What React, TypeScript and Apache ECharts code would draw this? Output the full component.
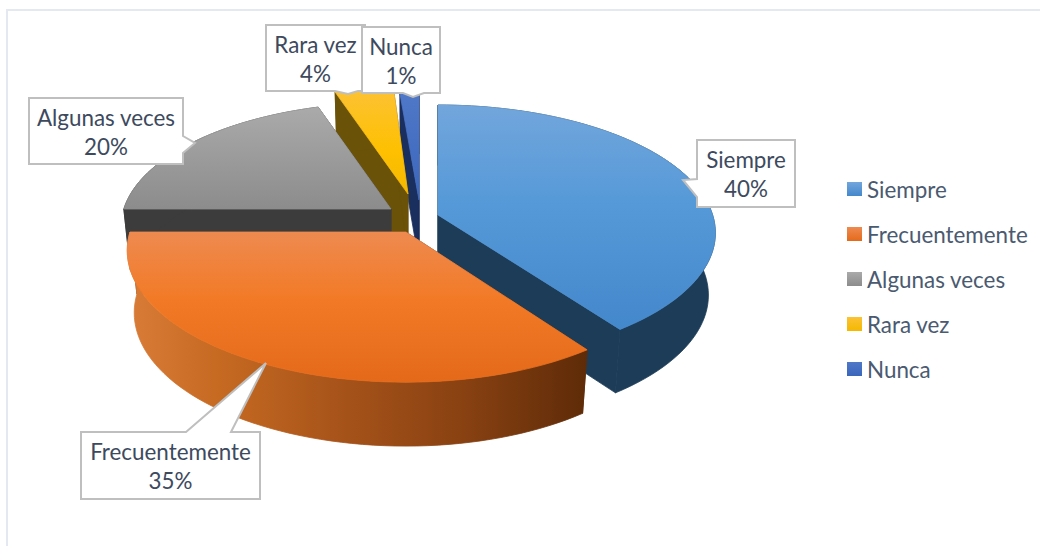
import React, { useEffect, useRef } from "react";
import * as echarts from "echarts";

const categories = ["Siempre", "Frecuentemente", "Algunas veces", "Rara vez", "Nunca"];
const seriesValues = [40, 35, 20, 4, 1];

const FONT = "Lato, Carlito, 'Open Sans', sans-serif";
const LABEL_COLOR = "#3d4a5e";
const LEGEND_COLOR = "#4a5a70";

// 3D pie projection
const R = 276, RY = 125.4, P = 0.14, H = 62, RYB = 127, RB = 0.975;
// apex x, apex y, right scale, left scale, vertical scale of each exploded slice
const apex: [number, number, number, number, number][] = [
  [438, 215, 0.995, 0.99, 1],
  [406, 232, 0.99, 1.0, 1.03],
  [391, 209, 0.968, 0.968, 0.968],
  [408, 194, 0.968, 0.968, 0.968],
  [419, 200, 1.25, 1.25, 0.968],
];
const drawZ = [4, 5, 3, 2, 1];

const grad = (stops: [number, string][], horizontal = false) =>
  new echarts.graphic.LinearGradient(0, 0, horizontal ? 1 : 0, horizontal ? 0 : 1,
    stops.map(([offset, color]) => ({ offset, color })));

const topFill = [
  () => grad([[0, "#72a6dc"], [0.45, "#5599d8"], [1, "#4488cc"]]),
  () => grad([[0, "#ee8a50"], [0.45, "#f27a26"], [1, "#e46a1a"]]),
  () => grad([[0, "#aaaaaa"], [1, "#8c8c8c"]]),
  () => grad([[0, "#fcc235"], [0.6, "#fec000"], [1, "#f4b800"]]),
  () => grad([[0, "#5078c8"], [1, "#3a66bb"]]),
];
const wallFill = ["#1d3c58", "#5e2b08", "#3c3c3c", "#6a5208", "#1a2f5e"];
const rimFill = [
  () => "#1d3c58",
  () => grad([[0, "#d87c38"], [0.2, "#c66a22"], [0.45, "#a8541a"], [0.72, "#8a4212"], [1, "#5e2b08"]], true),
  () => "#3c3c3c",
  () => "#6a5208",
  () => "#1a2f5e",
];
const legendFill = [
  () => grad([[0, "#72a6dc"], [1, "#4488cc"]]),
  () => grad([[0, "#ee8a50"], [1, "#e46a1a"]]),
  () => grad([[0, "#aaaaaa"], [1, "#8c8c8c"]]),
  () => grad([[0, "#fcc235"], [1, "#f4b800"]]),
  () => grad([[0, "#5078c8"], [1, "#3a66bb"]]),
];

const total = seriesValues.reduce((a, b) => a + b, 0);

function project(i: number, deg: number, bottom: boolean): number[] {
  const [cx, cy, kr, kl, ky] = apex[i];
  const a = (deg * Math.PI) / 180;
  const X = Math.sin(a), Y = -Math.cos(a);
  const s = 1 / (1 - P * Y);
  const kx = X >= 0 ? kr : kl;
  if (bottom) return [cx + X * R * kx * RB * s, cy + H + Y * RYB * ky * s];
  return [cx + X * R * kx * s, cy + Y * RY * ky * s];
}

function arc(i: number, a0: number, a1: number, bottom: boolean) {
  const n = Math.max(4, Math.ceil((a1 - a0) / 2));
  const pts: number[][] = [];
  for (let t = 0; t <= n; t++) pts.push(project(i, a0 + ((a1 - a0) * t) / n, bottom));
  return pts;
}

function renderSlice(i: number) {
  return (_params: any, api: any) => {
    const value = api.value(0);
    const before = seriesValues.slice(0, i).reduce((a, b) => a + b, 0);
    const a0 = (before / total) * 360;
    const a1 = a0 + (value / total) * 360;
    const [cx, cy] = apex[i];
    const top = arc(i, a0, a1, false);
    const bot = arc(i, a0, a1, true);
    const poly = (points: number[][], fill: any, stroke: any) => ({
      type: "polygon", shape: { points },
      style: { fill, stroke, lineWidth: 0.8 },
    });
    const topPoints = [[cx, cy], ...top];
    const rim = rimFill[i]();
    const face = topFill[i]();
    return {
      type: "group",
      children: [
        poly([[cx, cy], top[0], bot[0], [cx, cy + H]], wallFill[i], wallFill[i]),
        poly([[cx, cy], top[top.length - 1], bot[bot.length - 1], [cx, cy + H]], wallFill[i], wallFill[i]),
        poly([...top, ...bot.slice().reverse()], rim, rim),
        poly(topPoints, face, face),
      ],
    };
  };
}

// callout outlines
const callouts: { box: number[]; outline: number[][]; cat: number }[] = [
  { cat: 0, box: [697, 140, 795, 207], outline: [[697, 140], [795, 140], [795, 207], [697, 207], [697, 197], [683, 180], [697, 179]] },
  { cat: 1, box: [81, 432, 260, 499], outline: [[81, 432], [186, 432], [266, 363], [231, 432], [260, 432], [260, 499], [81, 499]] },
  { cat: 2, box: [29, 98, 183, 164], outline: [[29, 98], [183, 98], [183, 136], [195, 143], [183, 153], [183, 164], [29, 164]] },
  { cat: 3, box: [266, 25, 365, 91], outline: [[266, 25], [365, 25], [365, 91], [358, 91], [348, 94], [335, 91], [266, 91]] },
  { cat: 4, box: [362, 27, 440, 93], outline: [[362, 27], [440, 27], [440, 93], [424, 93], [413, 97], [403, 93], [362, 93]] },
];

export default function App() {
  const ref = useRef<HTMLDivElement>(null);
  useEffect(() => {
    document.body.style.margin = "0";
    const chart = echarts.init(ref.current!, undefined, { renderer: "svg" });
    const calloutGraphics: any[] = [];
    callouts.forEach((c, idx) => {
      calloutGraphics.push({
        type: "polygon", z: 100 + idx * 2, shape: { points: c.outline },
        style: { fill: "#ffffff", stroke: "#bfbfbf", lineWidth: 2 },
      });
      calloutGraphics.push({
        type: "text", z: 101 + idx * 2,
        x: (c.box[0] + c.box[2]) / 2, y: (c.box[1] + c.box[3]) / 2 + 0.5,
        style: {
          text: `${categories[c.cat]}\n${seriesValues[c.cat]}%`,
          font: `22.4px ${FONT}`, fill: LABEL_COLOR, align: "center", verticalAlign: "middle", lineHeight: 29,
        },
      });
    });
    chart.setOption({
      animation: false,
      backgroundColor: "#ffffff",
      legend: {
        orient: "vertical", left: 842, top: 173, itemWidth: 15, itemHeight: 14, itemGap: 23,
        icon: "rect", selectedMode: false,
        textStyle: { fontFamily: FONT, fontSize: 22.4, color: LEGEND_COLOR, padding: [0, 0, 0, 0] },
        data: categories.map((name, i) => ({ name, itemStyle: { color: legendFill[i]() } })),
      },
      graphic: [
        { type: "line", z: 1, shape: { x1: 6, y1: 10, x2: 1040, y2: 10 }, style: { stroke: "#e3e8f1", lineWidth: 2 } },
        { type: "line", z: 1, shape: { x1: 7, y1: 10, x2: 7, y2: 546 }, style: { stroke: "#e3e8f1", lineWidth: 2 } },
        ...calloutGraphics,
      ],
      series: categories.map((name, i) => ({
        type: "custom", name, coordinateSystem: "none", z: drawZ[i] + 2, silent: true,
        data: [[seriesValues[i]]],
        itemStyle: { color: "#888" },
        renderItem: renderSlice(i),
      })),
    });
    return () => chart.dispose();
  }, []);
  return <div ref={ref} style={{ position: "fixed", left: 0, top: 0, width: 1042, height: 546 }} />;
}
